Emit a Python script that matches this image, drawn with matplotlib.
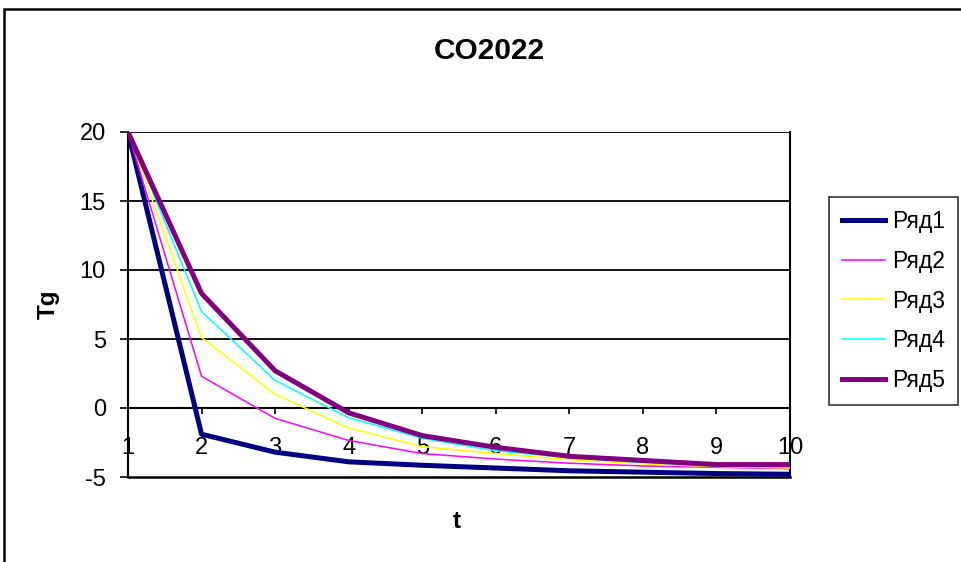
import matplotlib.pyplot as plt
from matplotlib.patches import Rectangle

t = [1, 2, 3, 4, 5, 6, 7, 8, 9, 10]
row1 = [20, -1.9, -3.2, -3.9, -4.15, -4.35, -4.55, -4.65, -4.75, -4.8]
row2 = [20, 2.3, -0.75, -2.35, -3.3, -3.7, -4.0, -4.2, -4.3, -4.4]
row3 = [20, 5.1, 1.0, -1.45, -2.8, -3.3, -3.75, -4.05, -4.25, -4.35]
row4 = [20, 7.0, 2.0, -0.7, -2.2, -3.1, -3.6, -3.95, -4.2, -4.3]
row5 = [20, 8.3, 2.7, -0.35, -2.0, -2.85, -3.5, -3.8, -4.1, -4.1]
names = ['Ряд1', 'Ряд2', 'Ряд3', 'Ряд4', 'Ряд5']
colors = ['#000080', '#FF00FF', '#FFFF00', '#00FFFF', '#800080']
widths = [3.6, 1.1, 1.1, 1.1, 3.6]

plt.rcParams['font.family'] = ['Liberation Sans', 'DejaVu Sans']
plt.rcParams['axes.unicode_minus'] = False

fig = plt.figure(figsize=(9.62, 5.62), dpi=100)
ax = fig.add_axes([128/962, 1-477/562, (790-128)/962, (477-132)/562])

for ys, n, c, w in zip([row1, row2, row3, row4, row5], names, colors, widths):
    ax.plot(t, ys, color=c, lw=w, label=n, zorder=3)

ax.set_xlim(1, 10)
ax.set_ylim(-5, 20)
ax.set_yticks([-5, 0, 5, 10, 15, 20])
ax.set_xticks(t)
for yv in [5, 10, 15, 20]:
    ax.axhline(yv, color='black', lw=1.3, zorder=1)
ax.axhline(-5, color='black', lw=1.8, zorder=1, clip_on=False)

ax.spines['bottom'].set_position(('data', 0))
ax.spines['top'].set_visible(False)
for s in ax.spines.values():
    s.set_linewidth(1.5)
ax.tick_params(axis='x', direction='out', length=4, width=1.2, pad=17, labelsize=17)
ax.tick_params(axis='y', direction='out', length=6, width=1.2, pad=10, labelsize=17)

fig.text(489/962, 1-51/562, 'CO2022', ha='center', va='center', fontsize=21.5, fontweight='bold')
fig.text(48/962, 1-304/562, 'Tg', ha='center', va='center', fontsize=17.5, fontweight='bold', rotation=90)
fig.text(457/962, 1-521/562, 't', ha='center', va='center', fontsize=17.5, fontweight='bold')

leg = fig.legend(loc='upper left', bbox_to_anchor=(829/962, 1-197/562), frameon=True,
                 fancybox=False, edgecolor='black', fontsize=16.5, handlelength=1.9,
                 handletextpad=0.3, labelspacing=0.74, borderpad=0.55, borderaxespad=0)
leg.get_frame().set_linewidth(1.2)

fig.patches.append(Rectangle((4/962, -0.1), 1.2, 1-9/562+0.1, transform=fig.transFigure,
                             fill=False, edgecolor='black', lw=1.8))

fig.savefig('out.png', dpi=100)
